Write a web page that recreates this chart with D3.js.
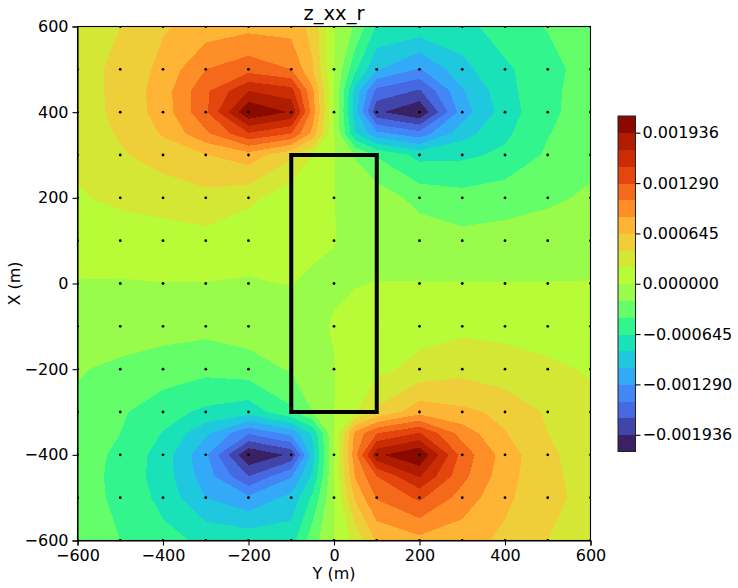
<!DOCTYPE html>
<html><head><meta charset="utf-8">
<script src="https://cdnjs.cloudflare.com/ajax/libs/d3/7.8.5/d3.min.js"></script>
<style>html,body{margin:0;padding:0;background:#fff}svg{display:block}text{font-family:"DejaVu Sans",sans-serif;fill:#000}</style>
</head><body><div id="c"></div>
<script>
// Field lattice (m): columns are Y, rows are X
const gridY = [-600,-500,-400,-300,-200,-100,-50,0,50,100,200,300,400,500,600];
const gridX = [600,500,450,400,350,300,200,100,0,-100,-200,-300,-350,-400,-450,-500,-600];
// Measurement points drawn as dots
const pointCoords = [-600,-500,-400,-300,-200,-100,0,100,200,300,400,500,600];
// Field values, in units of one contour step
const levelStep = 0.000215;
const rowP600 = [1.6,2.0,2.9,3.4,3.7,3.6,2.7,0.05,-1.15,-3.1,-3.3,-3.4,-2.4,-1.95,-1.45];
const rowP500 = [1.6,2.25,3.28,5.0,5.6,5.0,3.1,0.05,-2.8,-4.9,-6.1,-4.3,-3.2,-2.3,-1.6];
const rowP450 = [1.6,2.25,3.5,5.8,8.0,7.4,4.2,0.05,-4.4,-7.3,-8.1,-5.1,-3.35,-2.2,-1.6];
const rowP400 = [1.57,2.22,3.46,5.8,9.95,8.9,4.5,0.05,-4.6,-8.8,-9.95,-5.5,-3.5,-2.2,-1.55];
const rowP350 = [1.45,2.1,3.1,4.8,6.9,6.0,3.7,0.05,-3.9,-5.7,-6.6,-4.4,-3.2,-2.05,-1.4];
const rowP300 = [1.3,1.87,2.5,2.95,3.55,2.2,1.0,0.05,-1.05,-2.1,-3.3,-3.2,-2.8,-1.85,-1.3];
const rowP200 = [0.85,1.35,1.35,1.7,1.3,0.35,0.2,0.03,-0.55,-0.4,-1.35,-1.64,-1.4,-1.2,-0.83];
const rowP100 = [0.2,0.15,0.62,0.65,0.1,0.1,0.1,0.01,-0.1,-0.15,-0.38,-0.68,-0.63,-0.4,-0.25];
const rowZero = [-0.02,-0.02,-0.02,-0.02,-0.02,0.01,-0.08,-0.05,-0.02,0.01,0.02,0.02,0.02,0.02,0.02];
const rowM100 = [-0.15,-0.1,-0.67,-0.69,-0.47,-0.2,-0.1,0.03,0.15,0.3,0.63,0.76,0.8,0.53,0.2];
const rowM200 = [-0.87,-1.35,-1.4,-1.72,-1.47,-0.9,-0.2,-0.02,0.5,0.75,1.3,1.68,1.3,1.2,0.9];
const rowM300 = [-1.3,-1.85,-2.65,-3.2,-3.6,-2.2,-1.0,-0.02,0.95,2.2,3.6,3.2,2.8,1.85,1.3];
const rowM350 = [-1.45,-2.0,-3.05,-4.8,-6.9,-5.7,-3.8,-0.02,4.3,6.0,7.1,4.6,3.05,2.0,1.45];
const rowM400 = [-1.55,-2.2,-3.45,-5.8,-9.95,-8.8,-4.4,-0.02,4.7,8.8,9.95,5.6,3.55,2.15,1.6];
const rowM450 = [-1.6,-2.25,-3.5,-5.5,-8.0,-6.1,-3.8,-0.02,4.1,6.0,8.1,5.3,3.4,2.2,1.65];
const rowM500 = [-1.6,-2.2,-3.3,-5.0,-5.8,-4.7,-2.8,-0.02,3.2,5.1,6.2,4.6,3.2,2.3,1.65];
const rowM600 = [-1.5,-2.0,-2.7,-3.2,-3.3,-3.4,-1.4,-0.02,1.3,3.1,3.7,3.4,2.8,2.0,1.5];
const fieldRows = [rowP600,rowP500,rowP450,rowP400,rowP350,rowP300,rowP200,rowP100,rowZero,rowM100,rowM200,rowM300,rowM350,rowM400,rowM450,rowM500,rowM600];
// Contour levels in steps, lowest band first, and one colour per band
const levelIndex = [-10,-9,-8,-7,-6,-5,-4,-3,-2,-1,0,1,2,3,4,5,6,7,8,9,10];
const bandColors = ["#3a2064","#4144a8","#4668e0","#4286f8","#32aaf8","#1fc8de","#19e2b8","#33f58e","#64fe6a","#9afc4a",
                    "#b8fc38","#d4e735","#eecf3a","#feb435","#fd8e28","#f56a1a","#e4460e","#cb2c04","#b01c00","#8a0a00"];
// Axis ticks
const axisTicks = [-600,-400,-200,0,200,400,600];
const colorbarTicks = [-0.001936,-0.00129,-0.000645,0,0.000645,0.00129,0.001936];
// Outlined rectangle
const rectY = [-100,100];
const rectX = [-300,300];

const W=738,H=588;
const L=77.5,R=590.5,T=26.5,B=540.5;
const svg=d3.select("#c").append("svg").attr("width",W).attr("height",H).attr("viewBox",[0,0,W,H]);
const xS=d3.scaleLinear().domain([-600,600]).range([L,R]);
const yS=d3.scaleLinear().domain([-600,600]).range([B,T]);
const colToY=d3.scaleLinear().domain(gridY.map((d,i)=>i+0.5)).range(gridY);
const rowToX=d3.scaleLinear().domain(gridX.map((d,i)=>i+0.5)).range(gridX);
const values=fieldRows.flat();
const contours=d3.contours().size([gridY.length,gridX.length]).smooth(true);
const path=d3.geoPath(d3.geoTransform({point(px,py){this.stream.point(xS(colToY(px)),yS(rowToX(py)));}}));
svg.append("clipPath").attr("id","ax").append("rect").attr("x",L).attr("y",T).attr("width",R-L).attr("height",B-T);
const plot=svg.append("g").attr("clip-path","url(#ax)");
plot.append("rect").attr("x",L).attr("y",T).attr("width",R-L).attr("height",B-T).attr("fill",bandColors[0]).attr("shape-rendering","crispEdges");
plot.selectAll("path.band").data(bandColors.slice(1)).join("path").attr("class","band")
  .attr("fill",d=>d).attr("shape-rendering","crispEdges")
  .attr("d",(d,i)=>path(contours.contour(values,levelIndex[i+1])));
// Grid points
const pts=d3.cross(pointCoords,pointCoords);
plot.selectAll("circle").data(pts).join("circle").attr("cx",d=>xS(d[0])).attr("cy",d=>yS(d[1])).attr("r",1.4).attr("fill","#000");
// Rectangle
svg.append("rect").attr("x",xS(rectY[0])).attr("y",yS(rectX[1])).attr("width",xS(rectY[1])-xS(rectY[0])).attr("height",yS(rectX[0])-yS(rectX[1]))
  .attr("fill","none").attr("stroke","#000").attr("stroke-width",4);
// Axes
const fmtAxis=d=>(d<0?"\u2212":"")+Math.abs(d);
function styleAxis(g,size){g.selectAll("text").style("font-size",size+"px").attr("fill","#000");g.selectAll("line,path").attr("stroke","#000").attr("stroke-width",1.1);}
svg.append("g").attr("transform",`translate(0,${B})`).call(d3.axisBottom(xS).tickValues(axisTicks).tickFormat(fmtAxis).tickSize(5).tickPadding(4)).call(styleAxis,16);
svg.append("g").attr("transform",`translate(${L},0)`).call(d3.axisLeft(yS).tickValues(axisTicks).tickFormat(fmtAxis).tickSize(5).tickPadding(4)).call(styleAxis,16);
svg.append("rect").attr("x",L).attr("y",T).attr("width",R-L).attr("height",B-T).attr("fill","none").attr("stroke","#000").attr("stroke-width",1.1);
svg.append("text").attr("x",(L+R)/2).attr("y",20).attr("text-anchor","middle").style("font-size","19.5px").text("z_xx_r");
svg.append("text").attr("x",(L+R)/2).attr("y",579).attr("text-anchor","middle").style("font-size","16px").text("Y (m)");
svg.append("text").attr("transform",`translate(20,${(T+B)/2}) rotate(-90)`).attr("text-anchor","middle").style("font-size","16px").text("X (m)");
// Colour bar
const cbL=618,cbR=635.5,cbT=116,cbB=451.5;
const cS=d3.scaleLinear().domain([levelIndex[0]*levelStep,levelIndex[20]*levelStep]).range([cbB,cbT]);
svg.append("g").selectAll("rect").data(bandColors).join("rect")
  .attr("x",cbL).attr("width",cbR-cbL)
  .attr("y",(d,i)=>cS(levelIndex[i+1]*levelStep)).attr("height",(d,i)=>cS(levelIndex[i]*levelStep)-cS(levelIndex[i+1]*levelStep)+0.5)
  .attr("fill",d=>d).attr("shape-rendering","crispEdges");
svg.append("rect").attr("x",cbL).attr("y",cbT).attr("width",cbR-cbL).attr("height",cbB-cbT).attr("fill","none").attr("stroke","#222").attr("stroke-width",1);
const cbFmt=d=>(d<0?"\u2212":"")+Math.abs(d).toFixed(6);
svg.append("g").attr("transform",`translate(${cbR},0)`).call(d3.axisRight(cS).tickValues(colorbarTicks).tickFormat(cbFmt).tickSize(5).tickPadding(2)).call(styleAxis,16).call(g=>g.select(".domain").remove());
</script></body></html>
